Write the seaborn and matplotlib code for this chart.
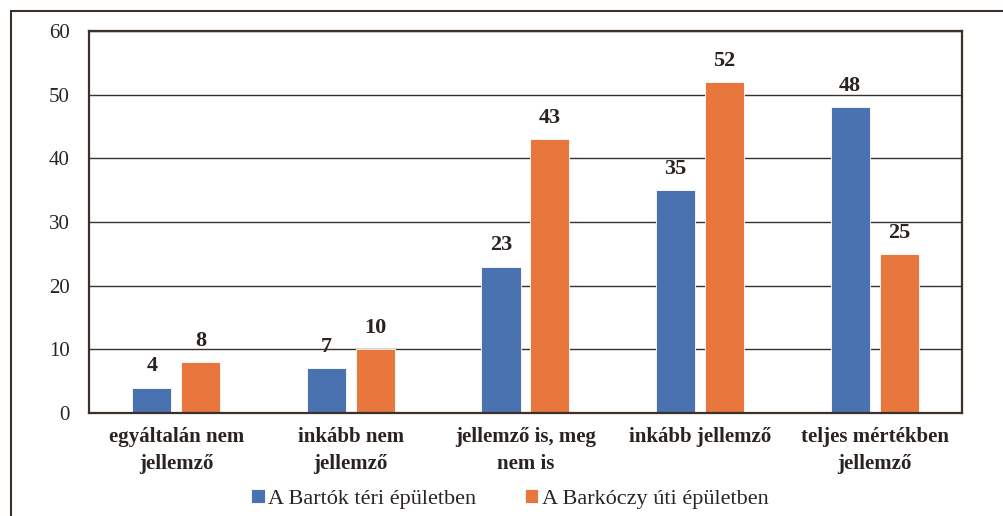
import numpy as np
import pandas as pd
import matplotlib
matplotlib.use('Agg')
import matplotlib.pyplot as plt
import seaborn as sns
from matplotlib.patches import Rectangle

# Data
categories = ['egyáltalán nem\njellemző', 'inkább nem\njellemző', 'jellemző is, meg\nnem is',
              'inkább jellemző', 'teljes mértékben\njellemző']
series_names = ['A Bartók téri épületben', 'A Barkóczy úti épületben']
bartok = [4, 7, 23, 35, 48]
barkoczy = [8, 10, 43, 52, 25]

df = pd.DataFrame({
    'cat': categories * 2,
    'series': [series_names[0]] * 5 + [series_names[1]] * 5,
    'value': bartok + barkoczy,
})

sns.set_style('white')
plt.rcParams['font.family'] = ['Liberation Serif', 'DejaVu Serif']
dark = '#3b302a'
txt = '#2a2320'

fig = plt.figure(figsize=(10.04, 5.16), dpi=100)
ax = fig.add_axes([0.0886, 0.1996, 0.8695, 0.7404])

sns.barplot(data=df, x='cat', y='value', hue='series', order=categories,
            hue_order=series_names, palette=['#4a72b0', '#e8773d'], saturation=1,
            width=0.56, gap=0.2, ax=ax, edgecolor='white', linewidth=0.6)

ax.set_ylim(0, 60)
ax.set_yticks(np.arange(0, 61, 10))
ax.set_xlim(-0.5, 4.5)
ax.yaxis.grid(True, color=dark, linewidth=1)
ax.set_axisbelow(True)
for s in ax.spines.values():
    s.set_visible(True)
    s.set_color(dark)
    s.set_linewidth(1.6)
ax.tick_params(axis='y', length=0, pad=14, labelsize=15, labelcolor=txt)
ax.tick_params(axis='x', length=0, pad=10, labelsize=15, labelcolor=txt)
for lbl in ax.get_xticklabels():
    lbl.set_fontweight('bold')
    lbl.set_linespacing(1.45)
ax.set_xlabel('')
ax.set_ylabel('')

for c in ax.containers:
    ax.bar_label(c, padding=8, fontsize=16, fontweight='bold', color=txt)

ax.legend(loc='center', bbox_to_anchor=(0.482, -0.225), ncol=2, frameon=False,
          fontsize=16, handlelength=0.6, handleheight=0.6, handletextpad=0.15,
          columnspacing=2.2, labelcolor=txt)

# outer frame, cropped at the right and bottom edges
fig.patches.append(Rectangle((11 / 1004, -0.1), 1.2, 1 - 11 / 516 + 0.1,
                             transform=fig.transFigure, fill=False,
                             edgecolor=dark, linewidth=1.5))

fig.savefig('out.png', dpi=100)
